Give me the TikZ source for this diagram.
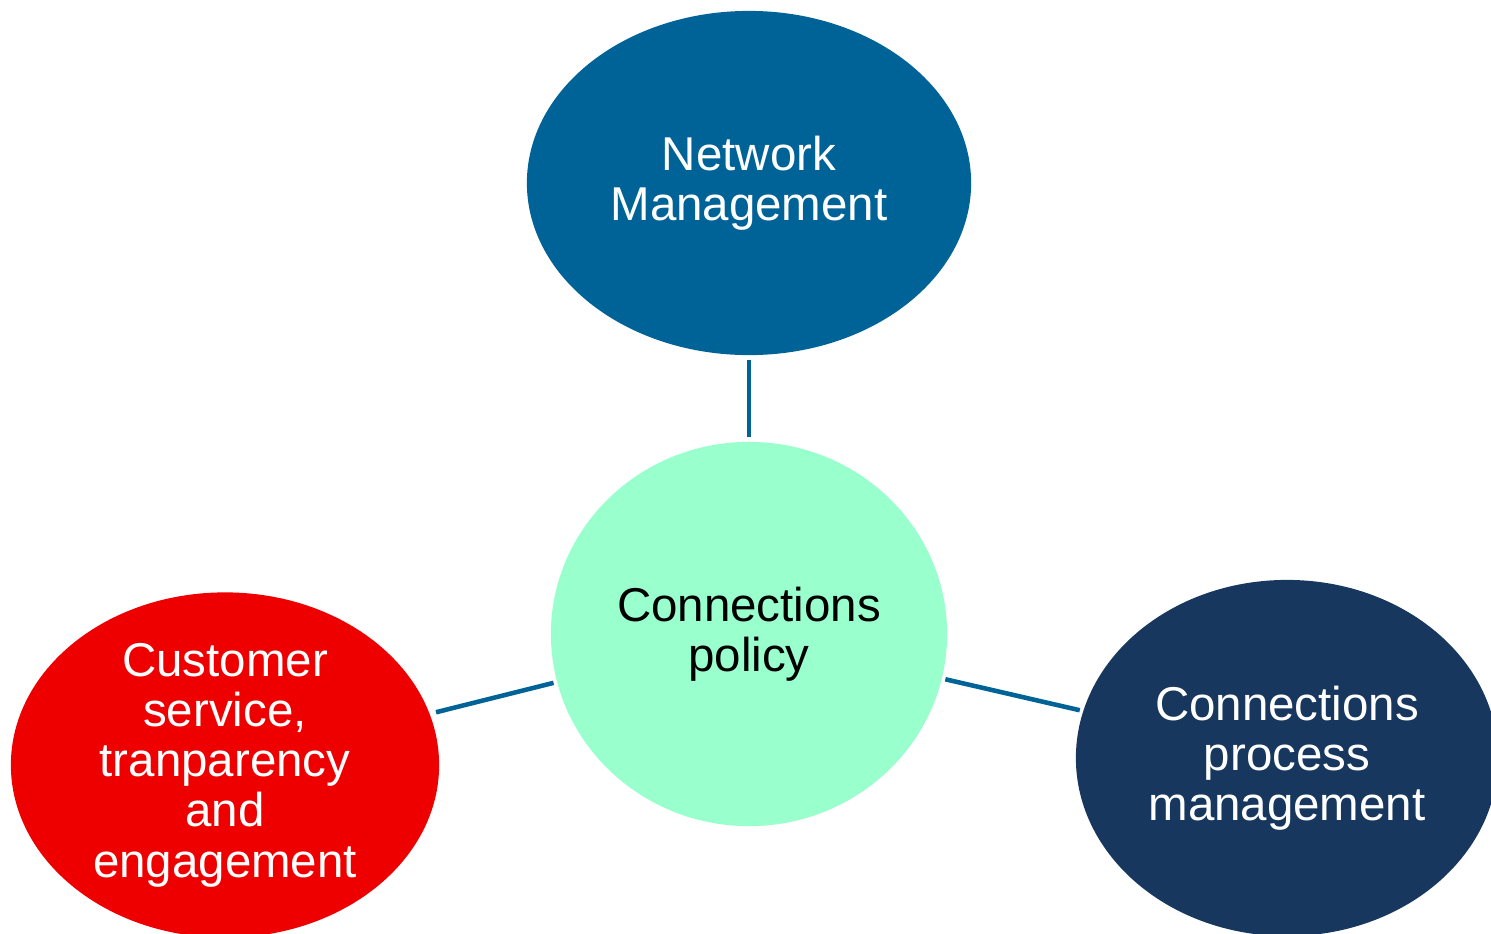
\documentclass[tikz,border=0pt]{standalone}
\usepackage{fontspec}
\setmainfont{Liberation Sans}
\usetikzlibrary{shapes.geometric}
\definecolor{netblue}{RGB}{0,99,152}
\definecolor{mint}{RGB}{153,255,204}
\definecolor{custred}{RGB}{238,0,0}
\definecolor{navy}{RGB}{23,55,94}
\tikzset{every node/.style={font=\fontsize{13.5}{14.3}\selectfont},
  bubble/.style={ellipse, draw=none, inner sep=0pt, align=center},
  link/.style={draw=netblue, line width=1.3pt}}

\begin{document}
\begin{tikzpicture}[x=0.01cm, y=-0.01cm]
      \useasboundingbox (0,0) rectangle (1491,933);
      \node[bubble, fill=netblue, text=white, minimum width=4.44cm, minimum height=3.44cm]
        (net) at (749,183) {Network\\Management};
      \node[bubble, fill=mint, text=black, minimum width=3.96cm, minimum height=3.84cm]
        (pol) at (749,634) {Connections\\policy};
      \node[bubble, fill=custred, text=white, minimum width=4.28cm, minimum height=3.42cm]
        (cust) at (225,765) {Customer\\service,\\tranparency\\and\\engagement};
      \node[bubble, fill=navy, text=white, minimum width=4.22cm, minimum height=3.56cm]
        (proc) at (1287,758) {Connections\\process\\management};
      % links between the bubbles
      \draw[link, shorten <=0.04cm, shorten >=0.04cm] (net) -- (pol);
      \draw[link, shorten <=0.03cm, shorten >=0.06cm] (pol) -- (cust);
      \draw[link, shorten <=0.03cm, shorten >=0.03cm] (pol) -- (proc);
    \end{tikzpicture}
\end{document}
